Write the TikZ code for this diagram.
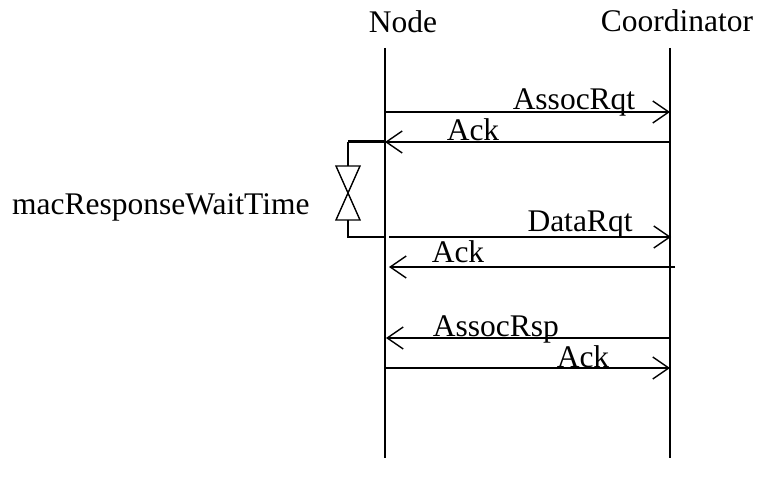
\documentclass[tikz,border=0pt]{standalone}
\usepackage{fontspec}
\setmainfont{Liberation Serif}
\usetikzlibrary{arrows.meta}
\begin{document}
\begin{tikzpicture}[x=1pt,y=-1pt,
  lbl/.style={inner sep=0pt,anchor=base,font=\fontsize{31.5}{31.5}\selectfont},
  life/.style={line width=1.4pt},
  msg/.style={line width=1.4pt,-{Straight Barb[length=16pt,width=22pt,line width=1.4pt]}},
  brk/.style={line width=1.4pt}]
\useasboundingbox (0,0) rectangle (758,486);
% lifelines
\node[lbl] (nodeL) at (403,33) {Node};
\node[lbl] (coordL) at (677,32) {Coordinator};
\coordinate (nt) at (385,48);
\coordinate (nb) at (385,458);
\coordinate (ct) at (670,48);
\coordinate (cb) at (670,458);
\draw[life] (nt) -- (nb);
\draw[life] (ct) -- (cb);
% messages
\coordinate (n1) at (385,112); \coordinate (c1) at (670,112);
\draw[msg] (n1) -- (c1);
\node[lbl] (m1) at (574,110) {AssocRqt};
\coordinate (n2) at (385,142); \coordinate (c2) at (670,142);
\draw[msg] (c2) -- (n2);
\node[lbl] (m2) at (473,141) {Ack};
\coordinate (n3) at (389,237); \coordinate (c3) at (671,237);
\draw[msg] (n3) -- (c3);
\node[lbl] (m3) at (580,232) {DataRqt};
\coordinate (n4) at (389,267); \coordinate (c4) at (675,267);
\draw[msg] (c4) -- (n4);
\node[lbl] (m4) at (458,263) {Ack};
\coordinate (n5) at (386,338); \coordinate (c5) at (670,338);
\draw[msg] (c5) -- (n5);
\node[lbl] (m5) at (496,337) {AssocRsp};
\coordinate (n6) at (385,368); \coordinate (c6) at (670,368);
\draw[msg] (n6) -- (c6);
\node[lbl] (m6) at (583,367) {Ack};
% wait time bracket
\coordinate (b1) at (348,142);
\coordinate (b2) at (348,166);
\coordinate (b3) at (348,220);
\coordinate (b4) at (348,237);
\coordinate (b5) at (385,237);
\draw[line width=3pt] (b1) -- (n2);
\draw[brk] (b1) -- (b2);
\draw[brk] (336,166) -- (360,166) -- (336,220) -- (360,220) -- cycle;
\draw[brk] (b3) -- (b4) -- (b5);
\node[lbl,anchor=base west] (wt) at (12,215) {macResponseWaitTime};
\end{tikzpicture}
\end{document}
